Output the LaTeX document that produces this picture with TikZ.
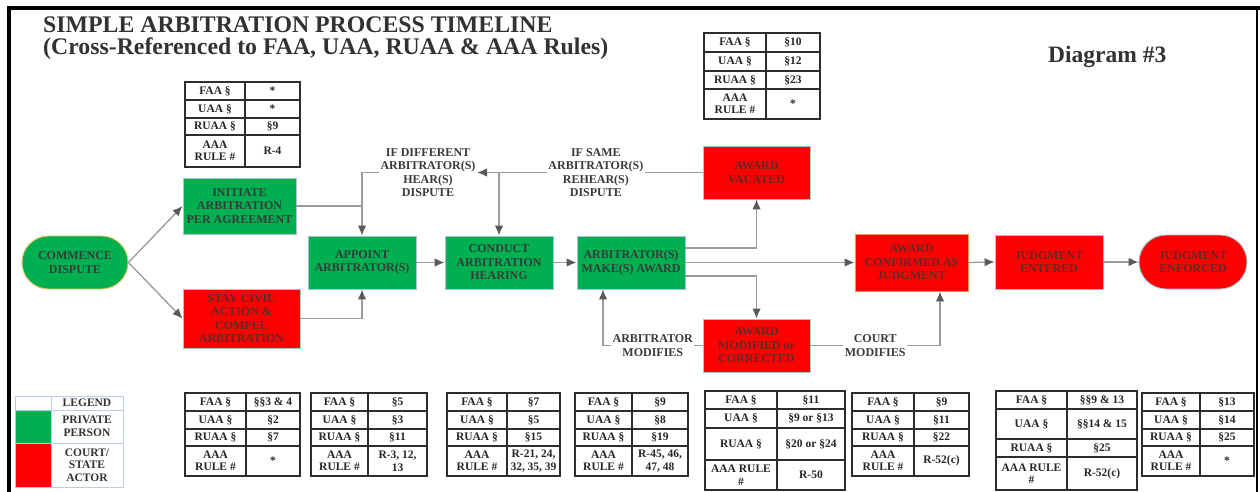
\documentclass[tikz,border=0pt]{standalone}
\usepackage{fontspec}
\setmainfont{Liberation Serif}
\usetikzlibrary{arrows.meta}
\definecolor{pgreen}{RGB}{0,176,80}
\definecolor{pred}{RGB}{255,0,0}
\definecolor{edgeblue}{RGB}{165,195,215}
\definecolor{edgegold}{RGB}{225,195,90}
\definecolor{edgeorange}{RGB}{245,150,70}
\definecolor{linegray}{RGB}{155,155,155}
\definecolor{arrowgray}{RGB}{90,90,90}
\definecolor{gtext}{RGB}{55,60,58}
\definecolor{rtext}{RGB}{100,40,40}
\definecolor{titletext}{RGB}{50,50,50}
\definecolor{tabline}{RGB}{45,45,45}
\definecolor{legline}{RGB}{185,205,228}
\newcommand\nodefnt{\fontsize{12}{13.5}\selectfont\bfseries}
\newcommand\tabfnt{\fontsize{11.5}{12.5}\selectfont\bfseries}
\newcommand\titlefnt{\fontsize{23.8}{26}\selectfont\bfseries}
% name, x1, xsplit, x2, ytop, ybottom, left text, right text
\newcommand\tabrow[8]{%
  \draw[tabrule] (#2,-#5) rectangle (#4,-#6);
  \draw[tabrule] (#3,-#5) -- (#3,-#6);
  \node[tabtext] (#1l) at ({(#2+#3)/2},{-(#5+#6)/2}) {#7};
  \node[tabtext] (#1r) at ({(#3+#4)/2},{-(#5+#6)/2}) {#8};
}
\begin{document}
\begin{tikzpicture}[x=1pt,y=1pt,
  base/.style={draw=edgeblue, line width=0.9pt, font=\nodefnt, align=center, inner sep=0pt},
  grn/.style={base, fill=pgreen, text=gtext},
  rd/.style={base, fill=pred, text=rtext},
  link/.style={draw=linegray, line width=1.3pt},
  conn/.style={link, -{Latex[length=10pt,width=8.5pt,color=arrowgray]}},
  lbl/.style={font=\nodefnt, text=gtext, align=center, fill=white, inner sep=1.5pt},
  tabrule/.style={draw=tabline, line width=1.2pt},
  tabtext/.style={font=\tabfnt, text=black!85, align=center, inner sep=0pt},
  legtext/.style={font=\tabfnt, text=black!80, align=center, inner sep=0pt},
  title/.style={font=\titlefnt, text=titletext, inner sep=0pt}
]
\useasboundingbox (0,0) rectangle (1260,-492);
\fill[white] (0,0) rectangle (1260,-492);
% frame
\draw[line width=4pt] (7,-8) -- (1260,-8);
\draw[line width=4pt] (9,-6) -- (9,-492);
\draw[line width=1.5pt] (1257,-8) -- (1257,-492);

% titles
\node[title, anchor=base west] (t1) at (43,-33) {SIMPLE ARBITRATION PROCESS TIMELINE};
\node[title, anchor=base west] (t2) at (43,-55) {(Cross-Referenced to FAA, UAA, RUAA \& AAA Rules)};
\node[title, anchor=base west, font=\fontsize{23.5}{25}\selectfont\bfseries] (dg) at (1048,-63) {Diagram \#3};

% process nodes
\node[grn, draw=edgegold, minimum width=106, minimum height=53, rounded corners=26.5pt] (commence) at (75,-262.5) {COMMENCE\\DISPUTE};
\node[grn, minimum width=113, minimum height=56] (initiate) at (239.5,-206) {INITIATE\\ARBITRATION\\PER AGREEMENT};
\node[rd, minimum width=117, minimum height=59] (stay) at (241.5,-318.5) {STAY CIVIL\\ACTION \&\\COMPEL\\ARBITRATION};
\node[grn, minimum width=108, minimum height=53] (appoint) at (362,-262.5) {APPOINT\\ARBITRATOR(S)};
\node[grn, minimum width=108, minimum height=53] (conduct) at (499,-262.5) {CONDUCT\\ARBITRATION\\HEARING};
\node[grn, minimum width=108, minimum height=53] (make) at (631,-262.5) {ARBITRATOR(S)\\MAKE(S) AWARD};
\node[rd, minimum width=107, minimum height=53] (vacated) at (756.5,-172.5) {AWARD\\VACATED};
\node[rd, minimum width=107, minimum height=53] (modified) at (756.5,-345.5) {AWARD\\MODIFIED or\\CORRECTED};
\node[rd, draw=edgeorange, minimum width=113, minimum height=57] (confirmed) at (911.5,-262.5) {AWARD\\CONFIRMED AS\\JUDGMENT};
\node[rd, minimum width=108, minimum height=54] (entered) at (1049,-262) {JUDGMENT\\ENTERED};
\node[rd, minimum width=108, minimum height=54, rounded corners=27pt] (enforced) at (1193,-262) {JUDGMENT\\ENFORCED};
\node[lbl] (ifdiff) at (428,-172.5) {IF DIFFERENT\\ARBITRATOR(S)\\HEAR(S)\\DISPUTE};

% connectors
\draw[conn] (commence.east) -- (initiate.west);
\draw[conn] (commence.east) -- (stay.west);
\draw[link] (initiate.east) -- (initiate.east -| appoint.north);
\draw[conn] (ifdiff.west) -| (appoint.north);
\draw[conn] (stay.east) -| (appoint.south);
\draw[conn] (appoint.east) -- (conduct.west);
\draw[conn] (conduct.east) -- (make.west);
\draw[conn] (vacated.west) -| (conduct.north) node[lbl, pos=0.262] (ifsame) {IF SAME\\ARBITRATOR(S)\\REHEAR(S)\\DISPUTE};
\draw[conn] (conduct.north |- vacated.west) -- (ifdiff.east |- vacated.west);
\draw[conn] ([yshift=14.5pt]make.east) -| (vacated.south);
\draw[conn] (make.east) -- (confirmed.west);
\draw[conn] ([yshift=-13.5pt]make.east) -| (modified.north);
\draw[conn] (modified.west) -| ([xshift=-28pt]make.south) node[lbl, pos=0.25] (arbmod) {ARBITRATOR\\MODIFIES};
\draw[conn] (modified.east) -| ([xshift=28.5pt]confirmed.south) node[lbl, pos=0.25] (courtmod) {COURT\\MODIFIES};
\draw[conn] (confirmed.east) -- (entered.west);
\draw[conn] (entered.east) -- (enforced.west);

% top tables
\tabrow{ta1}{185}{245}{300}{82}{100}{FAA §}{*}
\tabrow{ta2}{185}{245}{300}{100}{118}{UAA §}{*}
\tabrow{ta3}{185}{245}{300}{118}{135}{RUAA §}{§9}
\tabrow{ta4}{185}{245}{300}{135}{167}{AAA\\RULE \#}{R-4}

\tabrow{tb1}{704}{766}{820}{33}{52}{FAA §}{§10}
\tabrow{tb2}{704}{766}{820}{52}{71}{UAA §}{§12}
\tabrow{tb3}{704}{766}{820}{71}{89}{RUAA §}{§23}
\tabrow{tb4}{704}{766}{820}{89}{119}{AAA\\RULE \#}{*}

% bottom tables
\tabrow{b11}{185}{246}{300}{393}{411}{FAA §}{§§3 \& 4}
\tabrow{b12}{185}{246}{300}{411}{429}{UAA §}{§2}
\tabrow{b13}{185}{246}{300}{429}{446}{RUAA §}{§7}
\tabrow{b14}{185}{246}{300}{446}{476}{AAA\\RULE \#}{*}

\tabrow{b21}{311}{368}{427}{393}{411}{FAA §}{§5}
\tabrow{b22}{311}{368}{427}{411}{429}{UAA §}{§3}
\tabrow{b23}{311}{368}{427}{429}{446}{RUAA §}{§11}
\tabrow{b24}{311}{368}{427}{446}{476}{AAA\\RULE \#}{R-3, 12,\\13}

\tabrow{b31}{447}{507}{560}{393}{411}{FAA §}{§7}
\tabrow{b32}{447}{507}{560}{411}{429}{UAA §}{§5}
\tabrow{b33}{447}{507}{560}{429}{446}{RUAA §}{§15}
\tabrow{b34}{447}{507}{560}{446}{476}{AAA\\RULE \#}{R-21, 24,\\32, 35, 39}

\tabrow{b41}{575}{632}{688}{393}{411}{FAA §}{§9}
\tabrow{b42}{575}{632}{688}{411}{429}{UAA §}{§8}
\tabrow{b43}{575}{632}{688}{429}{446}{RUAA §}{§19}
\tabrow{b44}{575}{632}{688}{446}{476}{AAA\\RULE \#}{R-45, 46,\\47, 48}

\tabrow{b51}{705}{777}{845}{391}{409}{FAA §}{§11}
\tabrow{b52}{705}{777}{845}{409}{428}{UAA §}{§9 or §13}
\tabrow{b53}{705}{777}{845}{428}{460}{RUAA §}{§20 or §24}
\tabrow{b54}{705}{777}{845}{460}{490}{AAA RULE\\\#}{R-50}

\tabrow{b61}{852}{914}{969}{393}{411}{FAA §}{§9}
\tabrow{b62}{852}{914}{969}{411}{429}{UAA §}{§11}
\tabrow{b63}{852}{914}{969}{429}{446}{RUAA §}{§22}
\tabrow{b64}{852}{914}{969}{446}{476}{AAA\\RULE \#}{R-52(c)}

\tabrow{b71}{996}{1067}{1137}{391}{409}{FAA §}{§§9 \& 13}
\tabrow{b72}{996}{1067}{1137}{409}{439}{UAA §}{§§14 \& 15}
\tabrow{b73}{996}{1067}{1137}{439}{457}{RUAA §}{§25}
\tabrow{b74}{996}{1067}{1137}{457}{490}{AAA RULE\\\#}{R-52(c)}

\tabrow{b81}{1142}{1200}{1254}{393}{411}{FAA §}{§13}
\tabrow{b82}{1142}{1200}{1254}{411}{429}{UAA §}{§14}
\tabrow{b83}{1142}{1200}{1254}{429}{446}{RUAA §}{§25}
\tabrow{b84}{1142}{1200}{1254}{446}{476}{AAA\\RULE \#}{*}

% legend
\fill[pgreen] (15,-410) rectangle (51,-443);
\fill[pred] (15,-443) rectangle (51,-487);
\draw[legline, line width=0.9pt] (15,-396) rectangle (123,-487);
\draw[legline, line width=0.9pt] (51,-396) -- (51,-487);
\draw[legline, line width=0.9pt] (15,-410) -- (123,-410);
\draw[legline, line width=0.9pt] (15,-443) -- (123,-443);
\node[legtext] (leg1) at (87,-403) {LEGEND};
\node[legtext] (leg2) at (87,-426.5) {PRIVATE\\PERSON};
\node[legtext] (leg3) at (87,-465) {COURT/\\STATE\\ACTOR};
\end{tikzpicture}
\end{document}
